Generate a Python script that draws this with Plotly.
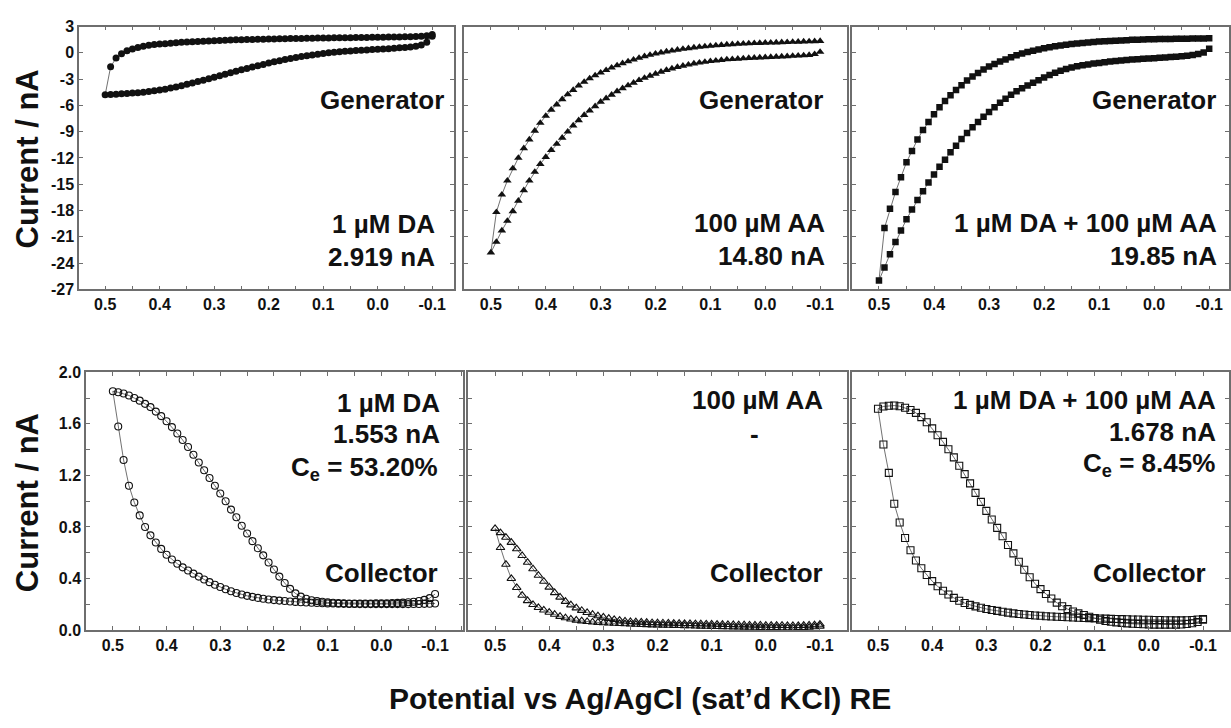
import plotly.graph_objects as go

W, H = 1231, 728
FONT = "Arial, Liberation Sans, sans-serif"
INK = "#111111"
FRAME = "#6e6e6e"

# Potential (V vs Ag/AgCl), listed from the switching potential 0.50 V down to -0.10 V
E = [0.50, 0.49, 0.48, 0.47, 0.46, 0.45, 0.44, 0.43, 0.42, 0.41,
     0.40, 0.39, 0.38, 0.37, 0.36, 0.35, 0.34, 0.33, 0.32, 0.31,
     0.30, 0.29, 0.28, 0.27, 0.26, 0.25, 0.24, 0.23, 0.22, 0.21,
     0.20, 0.19, 0.18, 0.17, 0.16, 0.15, 0.14, 0.13, 0.12, 0.11,
     0.10, 0.09, 0.08, 0.07, 0.06, 0.05, 0.04, 0.03, 0.02, 0.01,
     0.00, -0.01, -0.02, -0.03, -0.04, -0.05, -0.06, -0.07, -0.08, -0.09,
     -0.10]

# ---- Generator currents (nA); each list follows E ----
DA_GEN_FWD = [-4.80, -4.75, -4.72, -4.68, -4.64, -4.60, -4.55, -4.49, -4.42, -4.34,
              -4.25, -4.15, -4.03, -3.90, -3.75, -3.60, -3.44, -3.28, -3.12, -2.95,
              -2.78, -2.61, -2.44, -2.27, -2.10, -1.94, -1.78, -1.62, -1.47, -1.32,
              -1.17, -1.03, -0.90, -0.77, -0.65, -0.54, -0.43, -0.33, -0.24, -0.15,
              -0.07, 0.00, 0.06, 0.12, 0.17, 0.22, 0.26, 0.30, 0.33, 0.37,
              0.40, 0.44, 0.48, 0.52, 0.57, 0.62, 0.68, 0.76, 0.90, 1.20,
              1.90]
DA_GEN_REV = [-4.80, -1.60, -0.60, -0.10, 0.25, 0.45, 0.62, 0.75, 0.86, 0.94,
              1.00, 1.05, 1.10, 1.15, 1.20, 1.24, 1.27, 1.30, 1.33, 1.36,
              1.39, 1.42, 1.44, 1.46, 1.48, 1.50, 1.52, 1.53, 1.55, 1.56,
              1.58, 1.59, 1.60, 1.62, 1.63, 1.64, 1.65, 1.66, 1.67, 1.68,
              1.69, 1.70, 1.71, 1.71, 1.72, 1.73, 1.74, 1.75, 1.76, 1.77,
              1.78, 1.79, 1.80, 1.81, 1.82, 1.83, 1.85, 1.87, 1.90, 1.96,
              2.10]

AA_GEN_FWD = [-22.8, -21.6, -20.3, -19.2, -18.1, -16.9, -15.7, -14.6, -13.6, -12.7,
              -11.9, -11.1, -10.4, -9.7, -9.0, -8.3, -7.7, -7.1, -6.6, -6.1,
              -5.6, -5.2, -4.8, -4.4, -4.05, -3.72, -3.42, -3.13, -2.86, -2.62,
              -2.39, -2.17, -1.97, -1.79, -1.63, -1.48, -1.35, -1.23, -1.13, -1.04,
              -0.96, -0.89, -0.82, -0.76, -0.72, -0.68, -0.64, -0.60, -0.57, -0.54,
              -0.51, -0.48, -0.45, -0.42, -0.39, -0.36, -0.33, -0.30, -0.25, -0.15,
              0.10]
AA_GEN_REV = [-22.8, -18.2, -16.2, -14.6, -13.2, -12.0, -10.9, -9.9, -8.9, -8.0,
              -7.2, -6.5, -5.9, -5.3, -4.75, -4.25, -3.75, -3.32, -2.92, -2.58,
              -2.27, -1.98, -1.70, -1.44, -1.20, -0.98, -0.78, -0.58, -0.40, -0.24,
              -0.10, 0.03, 0.14, 0.25, 0.35, 0.44, 0.52, 0.60, 0.67, 0.73,
              0.79, 0.84, 0.89, 0.94, 0.98, 1.01, 1.04, 1.07, 1.10, 1.12,
              1.14, 1.16, 1.18, 1.20, 1.22, 1.24, 1.26, 1.28, 1.30, 1.32,
              1.35]

MIX_GEN_FWD = [-26.0, -24.5, -23.0, -21.6, -20.3, -19.0, -17.9, -16.8, -15.8, -14.8,
               -13.9, -13.0, -12.2, -11.35, -10.6, -9.85, -9.15, -8.5, -7.9, -7.3,
               -6.75, -6.2, -5.7, -5.25, -4.8, -4.4, -4.05, -3.72, -3.42, -3.12,
               -2.82, -2.53, -2.28, -2.05, -1.84, -1.68, -1.54, -1.42, -1.32, -1.23,
               -1.15, -1.07, -1.00, -0.93, -0.87, -0.82, -0.77, -0.73, -0.69, -0.65,
               -0.61, -0.57, -0.53, -0.49, -0.44, -0.39, -0.33, -0.25, -0.14, 0.05,
               0.47]
MIX_GEN_REV = [-26.0, -20.0, -17.8, -15.9, -14.2, -12.5, -11.2, -9.9, -8.8, -7.9,
               -7.0, -6.2, -5.5, -4.85, -4.25, -3.7, -3.15, -2.7, -2.3, -1.9,
               -1.57, -1.27, -1.00, -0.75, -0.50, -0.27, -0.08, 0.10, 0.25, 0.39,
               0.52, 0.64, 0.74, 0.84, 0.92, 1.00, 1.07, 1.13, 1.19, 1.24,
               1.28, 1.32, 1.36, 1.39, 1.42, 1.45, 1.48, 1.50, 1.52, 1.54,
               1.56, 1.57, 1.58, 1.59, 1.60, 1.61, 1.62, 1.63, 1.64, 1.65,
               1.66]

# ---- Collector currents (nA); each list follows E ----
DA_COL_FWD = [1.853, 1.845, 1.835, 1.820, 1.800, 1.780, 1.755, 1.730, 1.695, 1.660,
              1.620, 1.575, 1.525, 1.475, 1.420, 1.360, 1.300, 1.240, 1.180, 1.120,
              1.060, 1.000, 0.935, 0.875, 0.810, 0.750, 0.690, 0.635, 0.580, 0.525,
              0.470, 0.415, 0.365, 0.320, 0.285, 0.260, 0.243, 0.232, 0.225, 0.220,
              0.215, 0.212, 0.210, 0.208, 0.207, 0.207, 0.207, 0.207, 0.207, 0.208,
              0.208, 0.209, 0.210, 0.211, 0.213, 0.216, 0.220, 0.226, 0.235, 0.248,
              0.280]
DA_COL_REV = [1.853, 1.580, 1.320, 1.120, 0.990, 0.890, 0.800, 0.735, 0.680, 0.630,
              0.585, 0.548, 0.515, 0.487, 0.462, 0.438, 0.415, 0.393, 0.372, 0.352,
              0.334, 0.317, 0.301, 0.288, 0.276, 0.266, 0.258, 0.250, 0.243, 0.238,
              0.233, 0.229, 0.226, 0.222, 0.219, 0.216, 0.214, 0.212, 0.210, 0.208,
              0.207, 0.206, 0.205, 0.204, 0.203, 0.203, 0.202, 0.202, 0.202, 0.202,
              0.202, 0.202, 0.202, 0.202, 0.202, 0.202, 0.203, 0.203, 0.204, 0.205,
              0.207]

AA_COL_FWD = [0.788, 0.755, 0.720, 0.680, 0.630, 0.578, 0.525, 0.475, 0.425, 0.378,
              0.333, 0.290, 0.255, 0.222, 0.195, 0.172, 0.152, 0.136, 0.122, 0.110,
              0.100, 0.090, 0.082, 0.076, 0.070, 0.066, 0.063, 0.061, 0.059, 0.057,
              0.056, 0.055, 0.054, 0.053, 0.052, 0.051, 0.050, 0.049, 0.048, 0.047,
              0.046, 0.045, 0.044, 0.043, 0.042, 0.041, 0.040, 0.039, 0.038, 0.038,
              0.037, 0.037, 0.036, 0.036, 0.035, 0.035, 0.035, 0.036, 0.038, 0.041,
              0.045]
AA_COL_REV = [0.788, 0.640, 0.510, 0.400, 0.330, 0.270, 0.228, 0.198, 0.175, 0.155,
              0.138, 0.122, 0.106, 0.095, 0.085, 0.077, 0.071, 0.066, 0.062, 0.059,
              0.056, 0.054, 0.052, 0.050, 0.048, 0.046, 0.045, 0.043, 0.042, 0.040,
              0.039, 0.038, 0.037, 0.036, 0.035, 0.034, 0.033, 0.031, 0.030, 0.029,
              0.028, 0.027, 0.026, 0.025, 0.024, 0.023, 0.022, 0.021, 0.021, 0.020,
              0.020, 0.019, 0.019, 0.018, 0.018, 0.018, 0.019, 0.020, 0.022, 0.025,
              0.030]

MIX_COL_FWD = [1.717, 1.735, 1.740, 1.742, 1.737, 1.725, 1.708, 1.685, 1.652, 1.612,
               1.565, 1.512, 1.460, 1.403, 1.340, 1.275, 1.210, 1.138, 1.065, 0.995,
               0.925, 0.858, 0.793, 0.728, 0.660, 0.595, 0.530, 0.468, 0.410, 0.360,
               0.318, 0.280, 0.245, 0.213, 0.185, 0.163, 0.145, 0.130, 0.117, 0.104,
               0.092, 0.080, 0.071, 0.065, 0.060, 0.056, 0.052, 0.049, 0.047, 0.045,
               0.044, 0.043, 0.043, 0.043, 0.043, 0.043, 0.044, 0.047, 0.053, 0.063,
               0.080]
MIX_COL_REV = [1.717, 1.440, 1.220, 0.980, 0.835, 0.715, 0.620, 0.540, 0.480, 0.428,
               0.380, 0.340, 0.306, 0.276, 0.250, 0.228, 0.210, 0.196, 0.184, 0.173,
               0.164, 0.156, 0.149, 0.142, 0.136, 0.130, 0.125, 0.121, 0.117, 0.114,
               0.111, 0.108, 0.106, 0.104, 0.102, 0.100, 0.098, 0.096, 0.094, 0.093,
               0.092, 0.090, 0.089, 0.087, 0.086, 0.085, 0.084, 0.083, 0.082, 0.081,
               0.080, 0.079, 0.078, 0.077, 0.077, 0.076, 0.076, 0.077, 0.079, 0.082,
               0.086]

# ---- Tick values and labels ----
X_TICKS = [0.5, 0.4, 0.3, 0.2, 0.1, 0.0, -0.1]
X_TICK_TEXT = ["0.5", "0.4", "0.3", "0.2", "0.1", "0.0", "-0.1"]
GEN_Y_TICKS = [3, 0, -3, -6, -9, -12, -15, -18, -21, -24, -27]
GEN_Y_TICK_TEXT = ["3", "0", "-3", "-6", "-9", "-12", "-15", "-18", "-21", "-24", "-27"]
COL_Y_TICKS = [2.0, 1.6, 1.2, 0.8, 0.4, 0.0]
COL_Y_TICK_TEXT = ["2.0", "1.6", "1.2", "0.8", "0.4", "0.0"]

# ---- Panel layout: plot boxes in pixels (left, right, top, bottom) and x ranges ----
PANELS = [
    dict(box=(79, 454, 19, 288), xr=[0.548, -0.140], fwd=DA_GEN_FWD, rev=DA_GEN_REV,
         sym="circle", size=7, row="gen"),
    dict(box=(464, 847, 19, 288), xr=[0.549, -0.149], fwd=AA_GEN_FWD, rev=AA_GEN_REV,
         sym="triangle-up", size=7.5, row="gen"),
    dict(box=(852, 1229, 19, 288), xr=[0.549, -0.136], fwd=MIX_GEN_FWD, rev=MIX_GEN_REV,
         sym="square", size=6.5, row="gen"),
    dict(box=(86, 463, 373, 637), xr=[0.550, -0.152], fwd=DA_COL_FWD, rev=DA_COL_REV,
         sym="circle-open", size=7, row="col"),
    dict(box=(468, 847, 373, 637), xr=[0.550, -0.150], fwd=AA_COL_FWD, rev=AA_COL_REV,
         sym="triangle-up-open", size=7.5, row="col"),
    dict(box=(852, 1229, 373, 637), xr=[0.548, -0.148], fwd=MIX_COL_FWD, rev=MIX_COL_REV,
         sym="square-open", size=7, row="col"),
]


def px_x(x):
    return x / W


def px_y(y):
    return 1 - y / H


fig = go.Figure()
layout = dict(
    width=W, height=H,
    margin=dict(l=0, r=0, t=0, b=0),
    paper_bgcolor="white", plot_bgcolor="white",
    showlegend=False,
    font=dict(family=FONT, color=INK),
)

for i, p in enumerate(PANELS, start=1):
    l, r, t, b = p["box"]
    xa = "x" if i == 1 else f"x{i}"
    ya = "y" if i == 1 else f"y{i}"
    # full cycle: forward sweep from -0.10 V to 0.50 V, then back
    xs = E[::-1] + E[1:]
    ys = p["fwd"][::-1] + p["rev"][1:]
    is_gen = p["row"] == "gen"
    fig.add_trace(go.Scatter(
        x=xs, y=ys, xaxis=xa, yaxis=ya, mode="lines+markers",
        line=dict(color=INK, width=0.6),
        marker=dict(symbol=p["sym"], size=p["size"], color=INK,
                    line=dict(color=INK, width=0 if is_gen else 1.1)),
        hoverinfo="skip",
    ))
    common_axis = dict(
        showline=True, linecolor=FRAME, linewidth=1.5, mirror="ticks",
        ticks="inside", ticklen=4, tickwidth=1, tickcolor=FRAME,
        showgrid=False, zeroline=False,
        tickfont=dict(family=FONT, size=16, color=INK, weight="bold"),
    )
    layout["xaxis" if i == 1 else f"xaxis{i}"] = dict(
        common_axis, domain=[px_x(l), px_x(r)], range=p["xr"], anchor=ya,
        tickmode="array", tickvals=X_TICKS, ticktext=X_TICK_TEXT,
        minor=dict(tickmode="linear", tick0=0, dtick=0.05, ticks="inside",
                   ticklen=4, tickwidth=1, tickcolor=FRAME, showgrid=False),
    )
    if is_gen:
        yt = dict(range=[-27, 3], tickvals=GEN_Y_TICKS, ticktext=GEN_Y_TICK_TEXT)
    else:
        yt = dict(range=[0, 2], tickvals=COL_Y_TICKS, ticktext=COL_Y_TICK_TEXT,
                  minor=dict(tickmode="linear", tick0=0, dtick=0.2, ticks="inside",
                             ticklen=4, tickwidth=1, tickcolor=FRAME, showgrid=False))
    layout["yaxis" if i == 1 else f"yaxis{i}"] = dict(
        common_axis, domain=[px_y(b), px_y(t)], anchor=xa, tickmode="array",
        showticklabels=(i in (1, 4)), **yt,
    )

fig.update_layout(**layout)

# ---- Text labels: (text, right edge px, centre y px) ----
LABELS = [
    ("Generator", 446, 94), ("1 µM DA", 437, 221), ("2.919 nA", 437, 255),
    ("Generator", 825, 94), ("100 µM AA", 827, 220), ("14.80 nA", 827, 254),
    ("Generator", 1218, 94), ("1 µM DA + 100 µM AA", 1219, 220), ("19.85 nA", 1219, 254),
    ("1 µM DA", 442, 404), ("1.553 nA", 442, 436), ("C<sub>e</sub> = 53.20%", 440, 471),
    ("Collector", 440, 578),
    ("100 µM AA", 825, 401), ("Collector", 825, 578),
    ("1 µM DA + 100 µM AA", 1218, 401), ("1.678 nA", 1218, 434),
    ("C<sub>e</sub> = 8.45%", 1217, 467), ("Collector", 1208, 578),
]
for text, xr_px, yc_px in LABELS:
    fig.add_annotation(
        text=text, x=px_x(xr_px), y=px_y(yc_px), xref="paper", yref="paper",
        xanchor="right", yanchor="middle", showarrow=False,
        font=dict(family=FONT, size=26, color=INK, weight="bold"),
    )
# dash marking no collection efficiency for ascorbic acid alone
fig.add_annotation(
    text="-", x=px_x(754), y=px_y(436), xref="paper", yref="paper",
    xanchor="center", yanchor="middle", showarrow=False,
    font=dict(family=FONT, size=26, color=INK, weight="bold"),
)

# ---- Axis titles ----
for yc in (155, 507):
    fig.add_annotation(
        text="Current / nA", x=px_x(27), y=px_y(yc), xref="paper", yref="paper",
        xanchor="center", yanchor="middle", textangle=-90, showarrow=False,
        font=dict(family=FONT, size=31, color=INK, weight="bold"),
    )
fig.add_annotation(
    text="Potential vs Ag/AgCl (sat’d KCl) RE", x=px_x(640), y=px_y(707),
    xref="paper", yref="paper", xanchor="center", yanchor="middle", showarrow=False,
    font=dict(family=FONT, size=30, color=INK, weight="bold"),
)

fig.write_html("out.html")
